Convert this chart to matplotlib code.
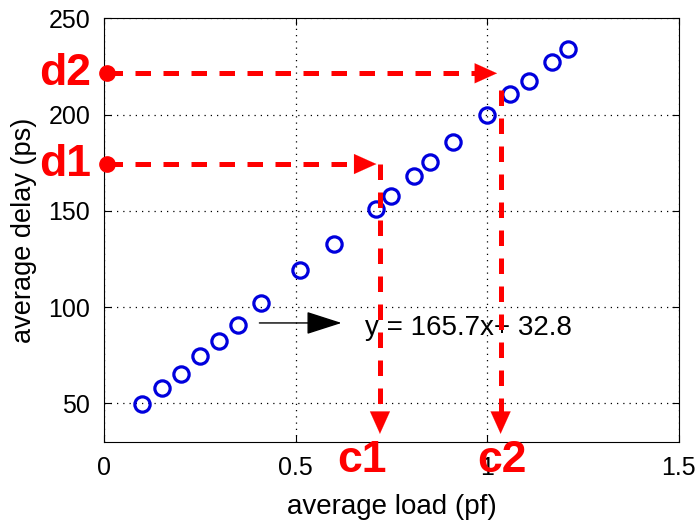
import matplotlib.pyplot as plt

plt.rcParams['font.family'] = ['Liberation Sans', 'DejaVu Sans']

# measured load / delay samples
load = [0.10, 0.15, 0.20, 0.25, 0.30, 0.35, 0.41, 0.51, 0.60,
        0.71, 0.75, 0.81, 0.85, 0.91, 1.00, 1.06, 1.11, 1.17, 1.21]
delay = [49.8, 57.8, 65.5, 74.5, 82.6, 90.6, 102.2, 119.1, 132.8,
         150.9, 157.8, 168.2, 175.2, 185.6, 200.0, 210.4, 217.2, 227.4, 234.2]

# delay targets and the loads they map to
d_levels = [174.3, 221.4]
d_names = ['d1', 'd2']
c_loads = [0.72, 1.035]
c_names = ['c1', 'c2']
c_label_x = [0.674, 1.039]
c_tops = [174.3, 212.8]

fit_text = 'y = 165.7x+ 32.8'

fig = plt.figure(figsize=(6.99, 5.20), dpi=100)
ax = fig.add_axes([0.149, 0.150, 0.822, 0.815])

ax.plot(load, delay, 'o', mfc='none', mec='#0000dd', ms=11, mew=2.3, zorder=3)

ax.set_xlim(0, 1.5)
ax.set_ylim(30, 250)
ax.set_xticks([0, 0.5, 1, 1.5])
ax.set_xticklabels(['0', '0.5', '1', '1.5'])
ax.set_yticks([50, 100, 150, 200, 250])
ax.grid(True, color='black', linestyle=(0, (1, 4)), linewidth=0.9)
ax.tick_params(direction='in', length=5, labelsize=18, top=True, right=True, pad=10)
ax.set_xlabel('average load (pf)', fontsize=20, labelpad=10)
ax.set_ylabel('average delay (ps)', fontsize=19.5, labelpad=8)

red = '#ff0000'
dash = (0, (3.1, 2.5))
bottom = 32.8

for lvl, name, cx in zip(d_levels, d_names, c_loads):
    ax.plot([0.008, cx - 0.03], [lvl, lvl], color=red, lw=3.6, linestyle=dash,
            clip_on=False, zorder=4)
    ax.plot([0.008], [lvl], 'o', color=red, ms=11, clip_on=False, zorder=5)
    ax.annotate('', xy=(cx - 0.002, lvl), xytext=(cx - 0.04, lvl),
                arrowprops=dict(arrowstyle='-|>,head_length=1.0,head_width=0.45',
                                color=red, lw=0.1, mutation_scale=16), zorder=5)
    ax.text(-0.035, lvl, name, color=red, fontsize=32, fontweight='bold',
            ha='right', va='center', zorder=5, clip_on=False)

for cx, lx, name, top in zip(c_loads, c_label_x, c_names, c_tops):
    ax.plot([cx, cx], [top, bottom + 8], color=red, lw=3.6, linestyle=dash, zorder=4)
    ax.annotate('', xy=(cx, bottom), xytext=(cx, bottom + 8),
                arrowprops=dict(arrowstyle='-|>,head_length=1.0,head_width=0.45',
                                color=red, lw=0.1, mutation_scale=16), zorder=5)
    ax.text(lx, 20.3, name, color=red, fontsize=32, fontweight='bold',
            ha='center', va='center', zorder=5, clip_on=False)

# fit line label with its pointer
ax.annotate('', xy=(0.627, 91.8), xytext=(0.398, 91.8),
            arrowprops=dict(arrowstyle='-|>,head_length=1.4,head_width=0.45',
                            color='black', lw=1.0, mutation_scale=16))
ax.text(0.681, 89.2, fit_text, fontsize=20, ha='left', va='center')

fig.savefig('out.png', dpi=100)
